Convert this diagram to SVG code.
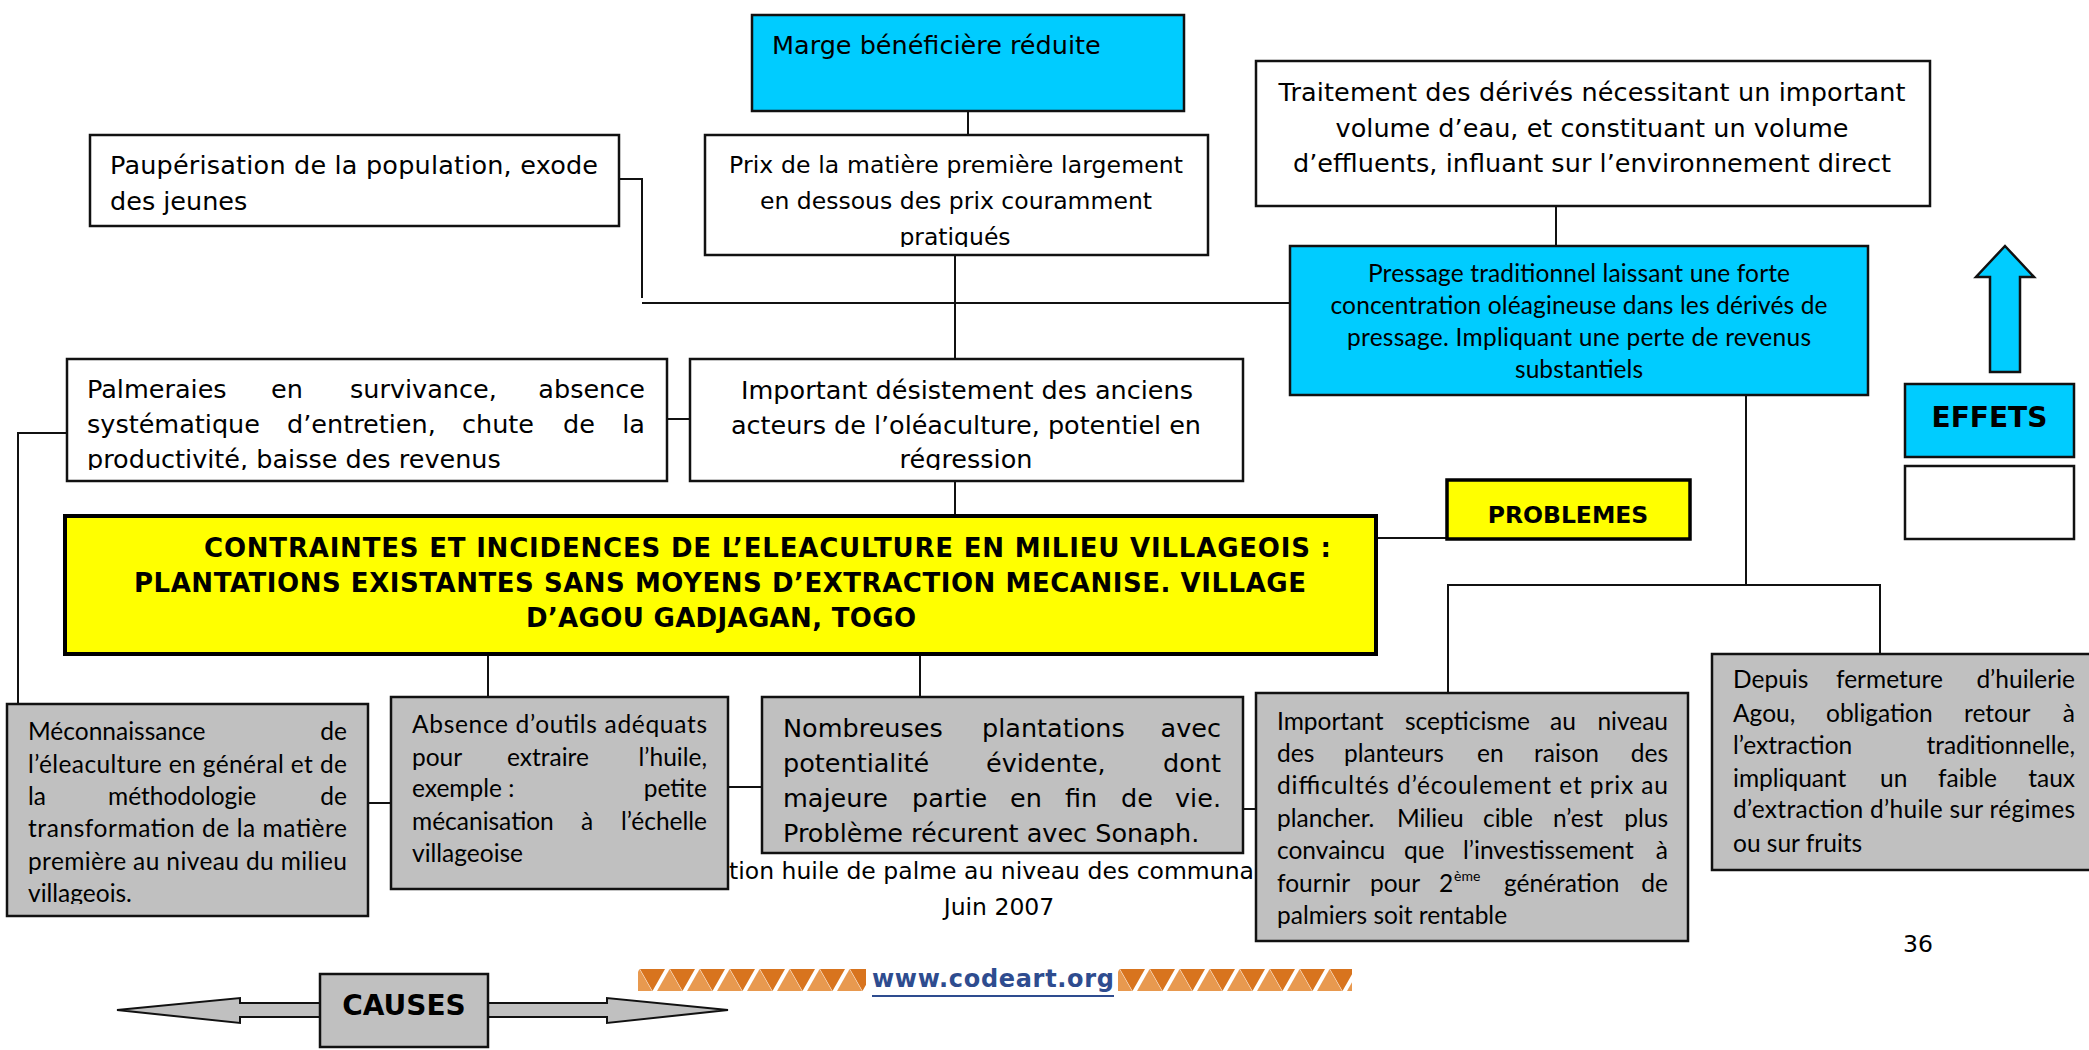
<svg xmlns="http://www.w3.org/2000/svg" width="2089" height="1050" viewBox="0 0 2089 1050">
<style>
.box{stroke:#111;stroke-width:2.5}
.w{fill:#fff}
.c{fill:#00CCFF}
.g{fill:#C0C0C0}
.y{fill:#FFFF00;stroke:#000;stroke-width:4}
.ln{stroke:#111;stroke-width:2;fill:none}
.t{font-family:"DejaVu Sans",Verdana,sans-serif;font-size:25.5px;fill:#000}
.ts{font-family:"DejaVu Sans",Verdana,sans-serif;font-size:23.5px;fill:#000}
.cal{font-family:Lato,"Liberation Sans",sans-serif;font-size:24.5px;fill:#000}
.b{font-family:"DejaVu Sans",Verdana,sans-serif;font-weight:bold;fill:#000}
.m{text-anchor:middle}
.e{text-anchor:end}
</style>
<defs>
<clipPath id="cPrix"><rect x="705" y="135" width="503" height="112"/></clipPath>
<clipPath id="cRow2"><rect x="60" y="359" width="1190" height="111"/></clipPath>
<clipPath id="cNomb"><rect x="762" y="697" width="481" height="148"/></clipPath>
<clipPath id="cMec"><rect x="7" y="704" width="361" height="200"/></clipPath>
<pattern id="orn" patternUnits="userSpaceOnUse" x="638" y="969" width="30" height="22">
<polygon points="2,0 27,0 14.5,22" fill="#D8741E"/>
<polygon points="19,22 44,22 31.5,0" fill="#E8994F"/>
<polygon points="-11,22 14,22 1.5,0" fill="#E8994F"/>
</pattern>
</defs>

<g id="connectors">
<line class="ln" x1="968" y1="111" x2="968" y2="135"/>
<polyline class="ln" points="619,179 642,179 642,298"/>
<line class="ln" x1="642" y1="303" x2="1290" y2="303"/>
<line class="ln" x1="955" y1="255" x2="955" y2="359"/>
<line class="ln" x1="1556" y1="206" x2="1556" y2="246"/>
<line class="ln" x1="667" y1="419" x2="690" y2="419"/>
<polyline class="ln" points="67,433 18,433 18,704"/>
<line class="ln" x1="955" y1="481" x2="955" y2="516"/>
<line class="ln" x1="1376" y1="538" x2="1447" y2="538"/>
<line class="ln" x1="488" y1="654" x2="488" y2="697"/>
<line class="ln" x1="920" y1="654" x2="920" y2="697"/>
<line class="ln" x1="368" y1="803" x2="391" y2="803"/>
<line class="ln" x1="728" y1="787" x2="762" y2="787"/>
<line class="ln" x1="1243" y1="809" x2="1256" y2="809"/>
<line class="ln" x1="1746" y1="395" x2="1746" y2="585"/>
<polyline class="ln" points="1448,693 1448,585 1880,585 1880,654"/>
</g>

<g id="marge">
<rect class="box c" x="752" y="15" width="432" height="96"/>
<text class="t" x="772" y="54">Marge bénéficière réduite</text>
</g>

<g id="pauperisation">
<rect class="box w" x="90" y="135" width="529" height="91"/>
<text class="t" x="110" y="174" textLength="488">Paupérisation de la population, exode</text>
<text class="t" x="110" y="210">des jeunes</text>
</g>

<g id="prix">
<rect class="box w" x="705" y="135" width="503" height="120"/>
<g clip-path="url(#cPrix)">
<text class="ts m" x="956" y="173" textLength="454">Prix de la matière première largement</text>
<text class="ts m" x="956" y="209" textLength="392">en dessous des prix couramment</text>
<text class="ts m" x="955" y="245">pratiqués</text>
</g>
</g>

<g id="traitement">
<rect class="box w" x="1256" y="61" width="674" height="145"/>
<text class="t m" x="1592" y="101" textLength="627">Traitement des dérivés nécessitant un important</text>
<text class="t m" x="1592" y="137" textLength="513">volume d’eau, et constituant un volume</text>
<text class="t m" x="1592" y="172" textLength="598">d’effluents, influant sur l’environnement direct</text>
</g>

<g id="pressage">
<rect class="box c" x="1290" y="246" width="578" height="149"/>
<text class="cal m" x="1579" y="282" textLength="422">Pressage traditionnel laissant une forte</text>
<text class="cal m" x="1579" y="314" textLength="497">concentration oléagineuse dans les dérivés de</text>
<text class="cal m" x="1579" y="346" textLength="464">pressage. Impliquant une perte de revenus</text>
<text class="cal m" x="1579" y="378" textLength="128">substantiels</text>
</g>

<g id="fleche-effets">
<polygon points="2005,246 2034,277 2020,277 2020,372 1990,372 1990,277 1976,277" fill="#00CCFF" stroke="#111" stroke-width="2.5"/>
</g>

<g id="effets">
<rect class="box c" x="1905" y="384" width="169" height="73"/>
<text class="b m" x="1989.5" y="427" font-size="28">EFFETS</text>
</g>

<g id="vide">
<rect class="box w" x="1905" y="466" width="169" height="73"/>
</g>

<g id="palmeraies">
<rect class="box w" x="67" y="359" width="600" height="122"/>
<g clip-path="url(#cRow2)">
<text class="t" y="398"><tspan x="87">Palmeraies</tspan><tspan x="271">en</tspan><tspan x="350">survivance,</tspan><tspan x="645" text-anchor="end">absence</tspan></text>
<text class="t" y="433"><tspan x="87">systématique</tspan><tspan x="287">d’entretien,</tspan><tspan x="462">chute</tspan><tspan x="563">de</tspan><tspan x="645" text-anchor="end">la</tspan></text>
<text class="t" x="87" y="468">productivité, baisse des revenus</text>
</g>
</g>

<g id="desistement">
<rect class="box w" x="690" y="359" width="553" height="122"/>
<g clip-path="url(#cRow2)">
<text class="t m" x="967" y="399" textLength="452">Important désistement des anciens</text>
<text class="t m" x="966" y="434" textLength="470">acteurs de l’oléaculture, potentiel en</text>
<text class="t m" x="966" y="468">régression</text>
</g>
</g>

<g id="titre">
<rect class="y" x="65" y="516" width="1311" height="138"/>
<text class="b" font-size="26" x="204" y="557" textLength="1127">CONTRAINTES ET INCIDENCES DE L’ELEACULTURE EN MILIEU VILLAGEOIS :</text>
<text class="b" font-size="26" x="134" y="592" textLength="1172">PLANTATIONS EXISTANTES SANS MOYENS D’EXTRACTION MECANISE. VILLAGE</text>
<text class="b" font-size="26" x="526" y="627" textLength="390">D’AGOU GADJAGAN, TOGO</text>
</g>

<g id="problemes">
<rect x="1447" y="480" width="243" height="59" fill="#FFFF00" stroke="#000" stroke-width="3.5"/>
<text class="b m" x="1568" y="523" font-size="23.5">PROBLEMES</text>
</g>

<g id="footer">
<text class="ts" x="729" y="879" textLength="525">tion huile de palme au niveau des communa</text>
<text class="ts m" x="999" y="915">Juin 2007</text>
<text class="ts m" x="1918" y="952">36</text>
<rect x="638" y="969" width="228" height="22" fill="url(#orn)"/>
<rect x="1118" y="969" width="234" height="22" fill="url(#orn)"/>
<text class="b" x="872" y="987" font-size="24" style="fill:#2E4C8F" textLength="242">www.codeart.org</text>
<line x1="872" y1="996" x2="1114" y2="996" stroke="#2E4C8F" stroke-width="2"/>
</g>

<g id="meconnaissance">
<rect class="box g" x="7" y="704" width="361" height="212"/>
<g clip-path="url(#cMec)">
<text class="cal" y="740"><tspan x="28">Méconnaissance</tspan><tspan x="347" text-anchor="end">de</tspan></text>
<text class="cal" x="28" y="773" textLength="319">l’éleaculture en général et de</text>
<text class="cal" y="805"><tspan x="28">la</tspan><tspan x="108">méthodologie</tspan><tspan x="347" text-anchor="end">de</tspan></text>
<text class="cal" x="28" y="837" textLength="319">transformation de la matière</text>
<text class="cal" x="28" y="870" textLength="319">première au niveau du milieu</text>
<text class="cal" x="28" y="902">villageois.</text>
</g>
</g>

<g id="absence">
<rect class="box g" x="391" y="697" width="337" height="192"/>
<text class="cal" x="412" y="733" textLength="295">Absence d’outils adéquats</text>
<text class="cal" y="766"><tspan x="412">pour</tspan><tspan x="507">extraire</tspan><tspan x="707" text-anchor="end">l’huile,</tspan></text>
<text class="cal" y="797"><tspan x="412">exemple :</tspan><tspan x="707" text-anchor="end">petite</tspan></text>
<text class="cal" y="830"><tspan x="412">mécanisation</tspan><tspan x="581">à</tspan><tspan x="707" text-anchor="end">l’échelle</tspan></text>
<text class="cal" x="412" y="862">villageoise</text>
</g>

<g id="nombreuses">
<rect class="box g" x="762" y="697" width="481" height="156"/>
<g clip-path="url(#cNomb)">
<text class="t" y="737"><tspan x="783">Nombreuses</tspan><tspan x="982">plantations</tspan><tspan x="1221" text-anchor="end">avec</tspan></text>
<text class="t" y="772"><tspan x="783">potentialité</tspan><tspan x="986">évidente,</tspan><tspan x="1221" text-anchor="end">dont</tspan></text>
<text class="t" y="807"><tspan x="783">majeure</tspan><tspan x="912">partie</tspan><tspan x="1010">en</tspan><tspan x="1065">fin</tspan><tspan x="1121">de</tspan><tspan x="1221" text-anchor="end">vie.</tspan></text>
<text class="t" x="783" y="842">Problème récurent avec Sonaph.</text>
</g>
</g>

<g id="scepticisme">
<rect class="box g" x="1256" y="693" width="432" height="248"/>
<text class="cal" y="730"><tspan x="1277">Important</tspan><tspan x="1405">scepticisme</tspan><tspan x="1550">au</tspan><tspan x="1668" text-anchor="end">niveau</tspan></text>
<text class="cal" y="762"><tspan x="1277">des</tspan><tspan x="1344">planteurs</tspan><tspan x="1477">en</tspan><tspan x="1534">raison</tspan><tspan x="1668" text-anchor="end">des</tspan></text>
<text class="cal" x="1277" y="794" textLength="391">difficultés d’écoulement et prix au</text>
<text class="cal" y="827"><tspan x="1277">plancher.</tspan><tspan x="1397">Milieu</tspan><tspan x="1483">cible</tspan><tspan x="1553">n’est</tspan><tspan x="1668" text-anchor="end">plus</tspan></text>
<text class="cal" y="859"><tspan x="1277">convaincu</tspan><tspan x="1404">que</tspan><tspan x="1463">l’investissement</tspan><tspan x="1668" text-anchor="end">à</tspan></text>
<text class="cal" y="892"><tspan x="1277">fournir</tspan><tspan x="1370">pour</tspan><tspan x="1439">2</tspan><tspan x="1454" y="881" font-size="14">ème</tspan><tspan x="1504" y="892">génération</tspan><tspan x="1668" text-anchor="end">de</tspan></text>
<text class="cal" x="1277" y="924">palmiers soit rentable</text>
</g>

<g id="depuis">
<rect class="box g" x="1712" y="654" width="390" height="216"/>
<text class="cal" y="688"><tspan x="1733">Depuis</tspan><tspan x="1836">fermeture</tspan><tspan x="2075" text-anchor="end">d’huilerie</tspan></text>
<text class="cal" y="722"><tspan x="1733">Agou,</tspan><tspan x="1826">obligation</tspan><tspan x="1964">retour</tspan><tspan x="2075" text-anchor="end">à</tspan></text>
<text class="cal" y="754"><tspan x="1733">l’extraction</tspan><tspan x="2075" text-anchor="end">traditionnelle,</tspan></text>
<text class="cal" y="787"><tspan x="1733">impliquant</tspan><tspan x="1880">un</tspan><tspan x="1938">faible</tspan><tspan x="2075" text-anchor="end">taux</tspan></text>
<text class="cal" x="1733" y="818" textLength="342">d’extraction d’huile sur régimes</text>
<text class="cal" x="1733" y="852">ou sur fruits</text>
</g>

<g id="causes">
<polygon points="117,1010 240,998 240,1003 320,1003 320,1017 240,1017 240,1023" fill="#C0C0C0" stroke="#111" stroke-width="2"/>
<polygon points="728,1010 607,998 607,1003 488,1003 488,1017 607,1017 607,1023" fill="#C0C0C0" stroke="#111" stroke-width="2"/>
<rect class="box g" x="320" y="974" width="168" height="73"/>
<text class="b m" x="404" y="1015" font-size="28">CAUSES</text>
</g>
</svg>
